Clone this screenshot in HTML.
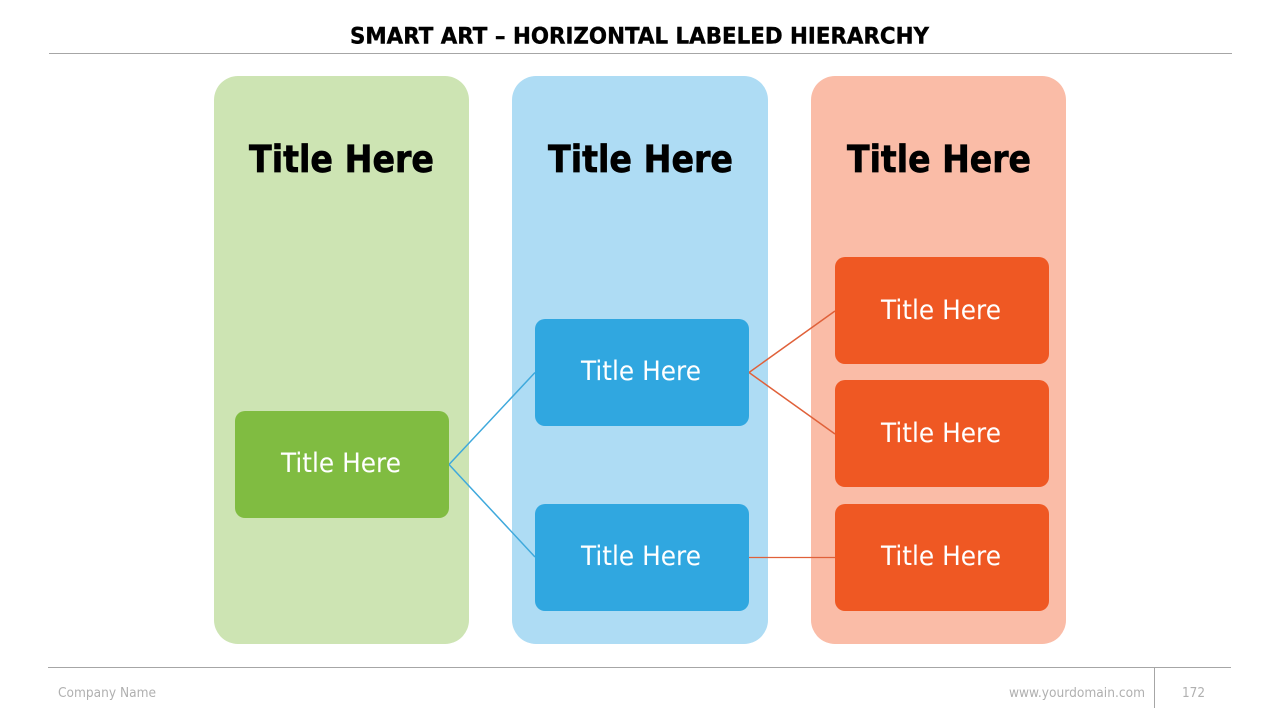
<!DOCTYPE html>
<html>
<head>
<meta charset="utf-8">
<style>
html,body{margin:0;padding:0;background:#fff;width:1280px;height:720px;overflow:hidden}
svg{display:block}
text{font-family:"DejaVu Sans","Liberation Sans",sans-serif}
.h{font-weight:bold;font-size:37px;fill:#000;stroke:#000;stroke-width:.7px}
.n{font-size:27px;fill:#fff}
.f{font-size:13px;fill:#b0b0b0}
</style>
</head>
<body>
<svg width="1280" height="720" viewBox="0 0 1280 720" xmlns="http://www.w3.org/2000/svg">
<rect width="1280" height="720" fill="#fff"/>
<text x="350" y="43.500" font-size="22.5" font-weight="bold" fill="#000" stroke="#000" stroke-width=".4" textLength="579" lengthAdjust="spacingAndGlyphs">SMART ART – HORIZONTAL LABELED HIERARCHY</text>
<rect x="49" y="53" width="1183" height="1" fill="#a6a6a6"/>

<rect x="214" y="76" width="255" height="568" rx="24" fill="#cde4b3"/>
<rect x="512" y="76" width="256" height="568" rx="24" fill="#aedcf4"/>
<rect x="811" y="76" width="255" height="568" rx="24" fill="#fabca7"/>

<text class="h" x="249" y="172" textLength="185" lengthAdjust="spacingAndGlyphs">Title Here</text>
<text class="h" x="548" y="172" textLength="185" lengthAdjust="spacingAndGlyphs">Title Here</text>
<text class="h" x="847" y="172" textLength="184" lengthAdjust="spacingAndGlyphs">Title Here</text>

<g fill="none" stroke-width="1.5">
<path d="M535 372.500L449 464.500L535 557" stroke="#3fa9dc"/>
<path d="M835 311L749 372.500L835 434" stroke="#e0613a"/>
<path d="M749 557.500H835" stroke="#e0613a" stroke-width="1.200"/>
</g>

<rect x="235" y="411" width="214" height="107" rx="10" fill="#80bc41"/>
<rect x="535" y="319" width="214" height="107" rx="10" fill="#30a7e0"/>
<rect x="535" y="504" width="214" height="107" rx="10" fill="#30a7e0"/>
<rect x="835" y="257" width="214" height="107" rx="10" fill="#ef5823"/>
<rect x="835" y="380" width="214" height="107" rx="10" fill="#ef5823"/>
<rect x="835" y="504" width="214" height="107" rx="10" fill="#ef5823"/>

<text class="n" x="281" y="472" textLength="120" lengthAdjust="spacingAndGlyphs">Title Here</text>
<text class="n" x="581" y="380" textLength="120" lengthAdjust="spacingAndGlyphs">Title Here</text>
<text class="n" x="581" y="565" textLength="120" lengthAdjust="spacingAndGlyphs">Title Here</text>
<text class="n" x="881" y="319" textLength="120" lengthAdjust="spacingAndGlyphs">Title Here</text>
<text class="n" x="881" y="442" textLength="120" lengthAdjust="spacingAndGlyphs">Title Here</text>
<text class="n" x="881" y="565" textLength="120" lengthAdjust="spacingAndGlyphs">Title Here</text>

<rect x="48" y="667" width="1183" height="1" fill="#a6a6a6"/>
<rect x="1154" y="667" width="1" height="41" fill="#a6a6a6"/>
<text class="f" x="58" y="697" textLength="98" lengthAdjust="spacingAndGlyphs">Company Name</text>
<text class="f" x="1009" y="697" textLength="136" lengthAdjust="spacingAndGlyphs">www.yourdomain.com</text>
<text class="f" x="1182" y="697" textLength="23" lengthAdjust="spacingAndGlyphs">172</text>
</svg>
</body>
</html>
